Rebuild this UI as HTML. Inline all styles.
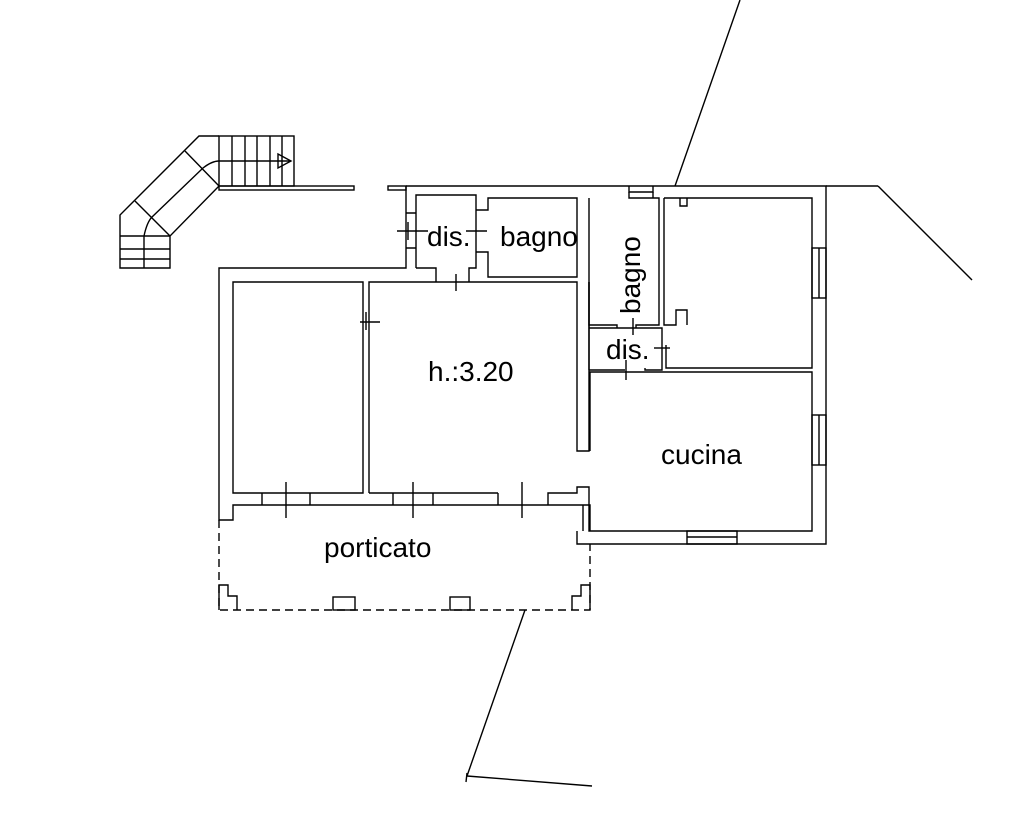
<!DOCTYPE html>
<html><head><meta charset="utf-8"><style>html,body{margin:0;padding:0;background:#fff}svg{display:block}text{font-family:"Liberation Sans",sans-serif;fill:#000}</style></head><body>
<svg width="1024" height="824" viewBox="0 0 1024 824" xmlns="http://www.w3.org/2000/svg">
<g fill="none" stroke="#000" stroke-width="1.4">
<line x1="740" y1="0" x2="675" y2="186"/>
<line x1="878" y1="186" x2="972" y2="280"/>
<line x1="525" y1="610" x2="467" y2="776"/>
<line x1="467" y1="776" x2="592" y2="786"/>
<line x1="467" y1="773" x2="466" y2="782"/>
<rect x="219" y="136" width="75" height="50"/>
<line x1="232" y1="136" x2="232" y2="186"/><line x1="245" y1="136" x2="245" y2="186"/><line x1="257" y1="136" x2="257" y2="186"/><line x1="270" y1="136" x2="270" y2="186"/><line x1="282" y1="136" x2="282" y2="186"/>
<path d="M144 236 Q147 222 152 217 L203 168 Q212 161 219 161 L290 161"/>
<path d="M278 154 L291 161 L278 168 Z"/>
<path d="M219 136 L199 136 L120 215 L120 268 L170 268 L170 236 L219 186"/>
<line x1="120" y1="236" x2="170" y2="236"/><line x1="120" y1="249" x2="170" y2="249"/><line x1="120" y1="259" x2="170" y2="259"/><line x1="144" y1="236" x2="144" y2="268"/>
<line x1="135" y1="201" x2="170" y2="236"/><line x1="185" y1="151" x2="219" y2="186"/>
<rect x="219" y="186" width="135" height="4"/>
<rect x="388" y="186" width="18" height="4"/>
<path d="M406 186 L826 186 L826 544 L577 544 L577 531"/>
<line x1="826" y1="186" x2="878" y2="186"/>
<path d="M406 186 L406 268 L219 268 L219 505"/>
<path d="M219 505 L219 520 L233 520 L233 505 L590 505 L590 531"/>
<path d="M233 493 L233 282 L363 282 L363 493 Z"/>
<path d="M369 493 L369 282 L577 282 L577 451 L589 451 L589 282"/>
<line x1="369" y1="493" x2="498" y2="493"/>
<path d="M548 505 L548 493 L577 493 L577 487 L589 487 L589 531 L812 531 L812 372 L590 372 L590 451"/>
<line x1="262" y1="493" x2="262" y2="505"/><line x1="310" y1="493" x2="310" y2="505"/><line x1="286" y1="482" x2="286" y2="518"/>
<line x1="393" y1="493" x2="393" y2="505"/><line x1="433" y1="493" x2="433" y2="505"/><line x1="413" y1="482" x2="413" y2="518"/>
<line x1="498" y1="493" x2="498" y2="505"/><line x1="522" y1="482" x2="522" y2="518"/>
<line x1="366" y1="312" x2="366" y2="330"/><line x1="360" y1="322" x2="380" y2="322"/>
<rect x="687" y="531" width="50" height="13"/><line x1="687" y1="537" x2="737" y2="537"/>
<rect x="812" y="415" width="14" height="50"/><line x1="819" y1="415" x2="819" y2="465"/>
<rect x="812" y="248" width="14" height="50"/><line x1="819" y1="248" x2="819" y2="298"/>
<line x1="583" y1="505" x2="583" y2="531"/>
<path d="M416 268 L416 195 L476 195 L476 268 L469 268 L469 282"/>
<path d="M416 268 L436 268 L436 282"/>
<path d="M406 213 L416 213 M406 248 L416 248"/>
<line x1="397" y1="231" x2="428" y2="231"/><line x1="408" y1="222" x2="408" y2="240"/>
<line x1="466" y1="231" x2="487" y2="231"/>
<line x1="456" y1="274" x2="456" y2="291"/>
<path d="M476 210 L488 210 L488 198 L577 198 L577 277 L488 277 L488 252 L476 252"/>
<path d="M629 186 L629 192 L653 192 L653 186"/>
<path d="M589 198 L589 325 L617 325 L617 328 M636 328 L636 325 L659 325 L659 198 L629 198 L629 192 M653 192 L653 198 L659 198"/>
<line x1="589" y1="370" x2="589" y2="282"/>
<path d="M589 328 L662 328 L662 370 L645 370 L645 368 M625 370 L589 370"/>
<line x1="633" y1="318" x2="633" y2="335"/>
<line x1="654" y1="348" x2="670" y2="348"/>
<line x1="626" y1="360" x2="626" y2="380"/>
<path d="M664 198 L812 198 L812 368 L666 368 L666 345"/>
<path d="M664 198 L664 325 L676 325 L676 310 L687 310 L687 325"/>
<path d="M680 198 L680 206 L687 206 L687 198"/>
<path d="M219 520 L219 610 L590 610 L590 544" stroke-dasharray="8 5"/>
<path d="M219 610 L219 585 L228 585 L228 596 L237 596 L237 610"/>
<path d="M590 610 L590 585 L581 585 L581 596 L572 596 L572 610"/>
<rect x="333" y="597" width="22" height="13"/>
<rect x="450" y="597" width="20" height="13"/>
</g>
<g font-size="28">
<text x="427" y="246">dis.</text>
<text x="500" y="246">bagno</text>
<text x="428" y="381">h.:3.20</text>
<text x="661" y="464">cucina</text>
<text x="324" y="557">porticato</text>
<text x="606" y="359">dis.</text>
<text transform="translate(640 314) rotate(-90)">bagno</text>
</g>
</svg>
</body></html>
